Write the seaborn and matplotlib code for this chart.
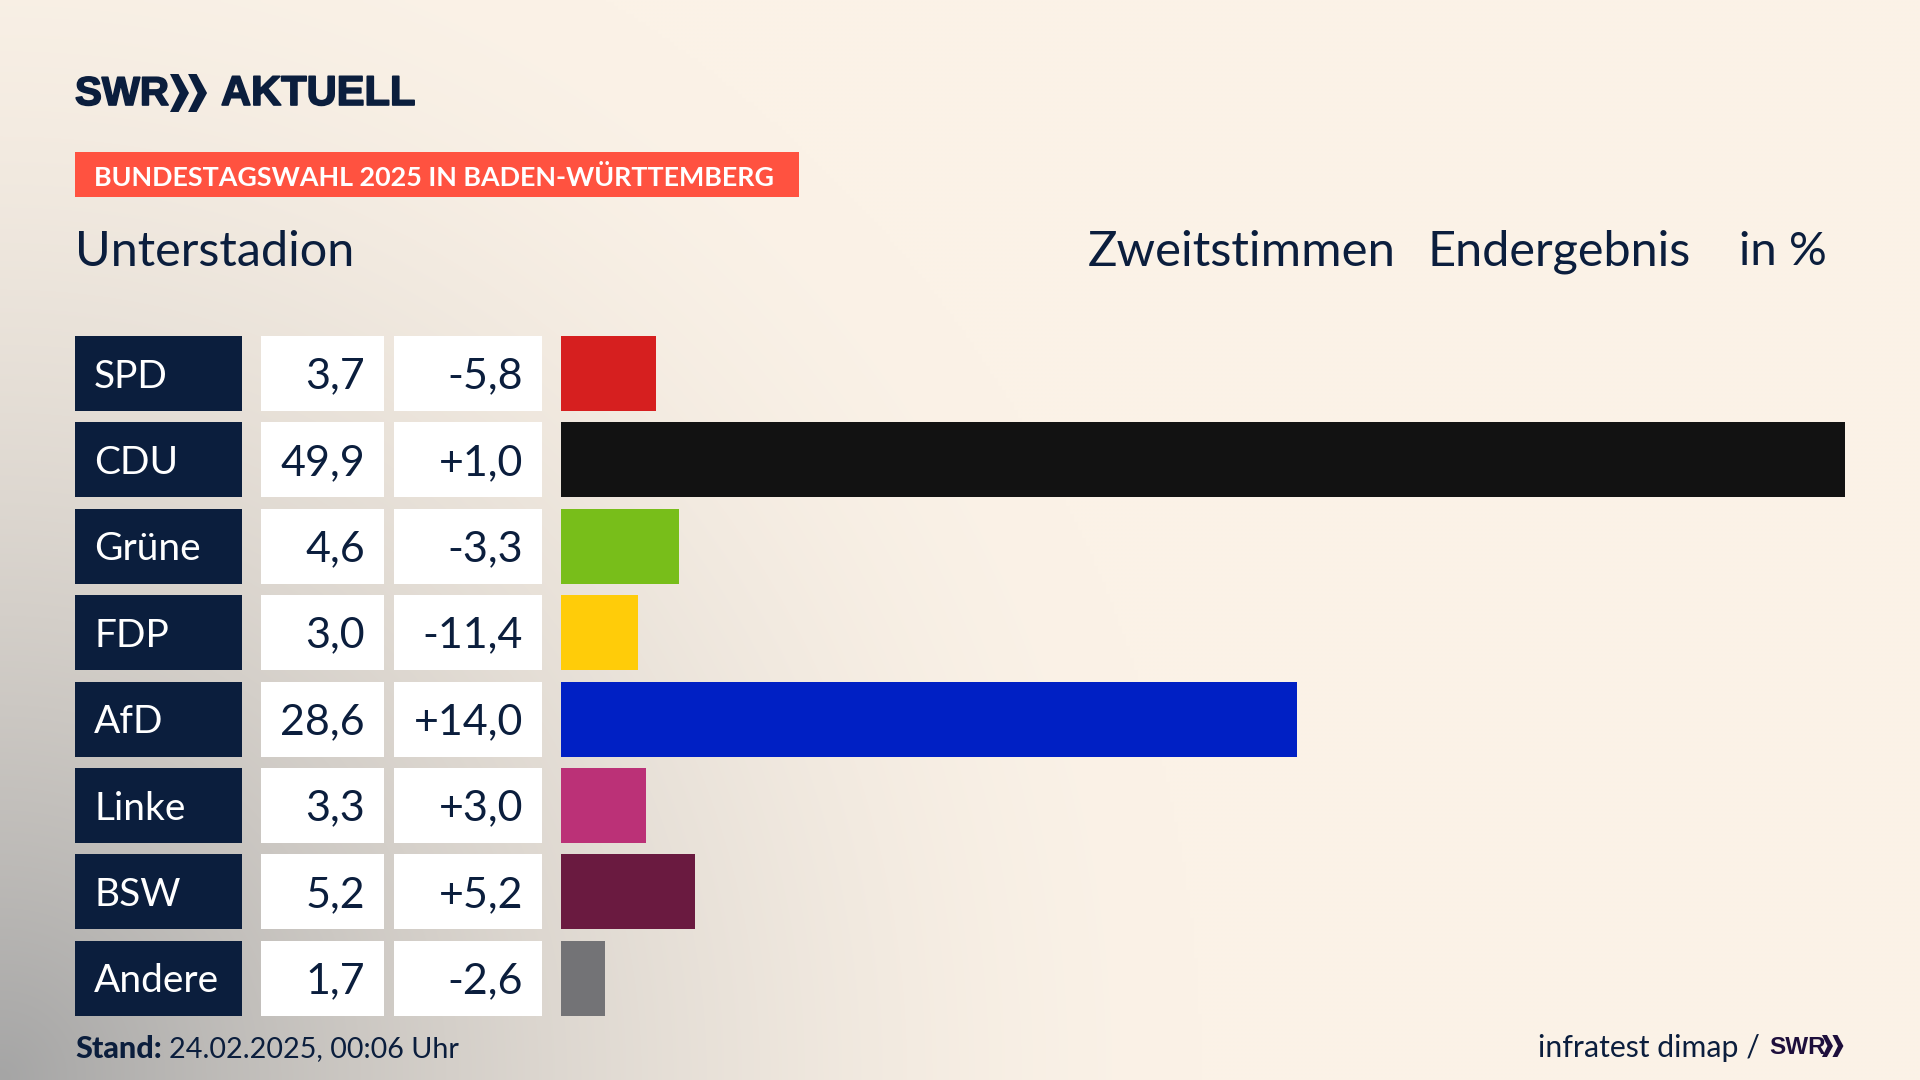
import numpy as np
import pandas as pd
import matplotlib
matplotlib.use('Agg')
import matplotlib.pyplot as plt
import matplotlib.patheffects as pe
from matplotlib.patches import Rectangle, Polygon
import seaborn as sns

parties = ['SPD', 'CDU', 'Grüne', 'FDP', 'AfD', 'Linke', 'BSW', 'Andere']
shares = [3.7, 49.9, 4.6, 3.0, 28.6, 3.3, 5.2, 1.7]
changes = [-5.8, 1.0, -3.3, -11.4, 14.0, 3.0, 5.2, -2.6]
colors = ['#D61F1F', '#121212', '#78BE1A', '#FFCC09', '#0020C4', '#BB3177', '#6A1A40', '#737376']

banner = 'BUNDESTAGSWAHL 2025 IN BADEN-WÜRTTEMBERG'
place = 'Unterstadion'
stand = '24.02.2025, 00:06 Uhr'

NAVY = '#0B1E3D'
CREAM = np.array([251, 242, 231]) / 255
GREY = np.array([165, 165, 165]) / 255
W, H = 1920, 1080
ROW_TOP, ROW_H, PITCH = 336, 75, 86.4
BAR_X0, BAR_X1 = 561, 1845
LOGO = ['Liberation Sans', 'DejaVu Sans']

sns.set_theme(style='white')
plt.rcParams['font.family'] = ['Lato', 'DejaVu Sans']

fig = plt.figure(figsize=(W / 100, H / 100), dpi=100)

# background plus everything that is placed in pixels
bg = fig.add_axes([0, 0, 1, 1])
yy, xx = np.mgrid[0:H:270j, 0:W:480j]
d = np.sqrt((xx / 1200) ** 2 + ((H - yy) / 1250) ** 2)
g = np.clip(1 - d, 0, 1) ** 1.7
grad = CREAM[None, None, :] * (1 - g[..., None]) + GREY[None, None, :] * g[..., None]
bg.imshow(grad, extent=[0, W, H, 0], aspect='auto', interpolation='bilinear')
bg.set_xlim(0, W)
bg.set_ylim(H, 0)
bg.axis('off')


def chevrons(x, y, h, color):
    w = h * 0.5
    for off in (0, w * 0.95):
        pts = [(x + off, y), (x + off + w * 0.45, y), (x + off + w, y + h / 2),
               (x + off + w * 0.45, y + h), (x + off, y + h), (x + off + w * 0.5, y + h / 2)]
        bg.add_patch(Polygon(pts, closed=True, color=color, lw=0))


# logo
heavy = [pe.withStroke(linewidth=1.2, foreground=NAVY)]
bg.text(75, 94, 'SWR', fontsize=29, weight='bold', family=LOGO, color=NAVY, va='center', ha='left', path_effects=heavy)
chevrons(170, 74, 38, NAVY)
bg.text(221, 94, 'AKTUELL', fontsize=30, weight='bold', family=LOGO, color=NAVY, va='center', ha='left', path_effects=heavy)

# header
bg.add_patch(Rectangle((75, 152), 724, 45, color='#FF5240', lw=0))
bg.text(94, 177, banner, fontsize=19.4, weight='bold', color='white', va='center', ha='left')
bg.text(75, 252, place, fontsize=35, color=NAVY, va='center', ha='left')
bg.text(1088, 252, 'Zweitstimmen', fontsize=35.4, color=NAVY, va='center', ha='left')
bg.text(1428, 252, 'Endergebnis', fontsize=35, color=NAVY, va='center', ha='left')
bg.text(1739, 252, 'in %', fontsize=34, color=NAVY, va='center', ha='left')

# table cells
for i, party in enumerate(parties):
    top = ROW_TOP + i * PITCH
    mid = top + ROW_H / 2 + 3
    bg.add_patch(Rectangle((75, top), 167, ROW_H, color=NAVY, lw=0))
    bg.add_patch(Rectangle((261, top), 123, ROW_H, color='white', lw=0))
    bg.add_patch(Rectangle((394, top), 148, ROW_H, color='white', lw=0))
    bg.text(94, mid, party, fontsize=28, color='white', va='center', ha='left')
    bg.text(365, mid, f'{shares[i]:.1f}'.replace('.', ','), fontsize=31, color=NAVY, va='center', ha='right')
    bg.text(523, mid, f'{changes[i]:+.1f}'.replace('.', ','), fontsize=31, color=NAVY, va='center', ha='right')

# bars through seaborn, axes spans bar start to the CDU bar end
df = pd.DataFrame({'party': parties, 'share': shares})
top_px = ROW_TOP + ROW_H / 2 - PITCH / 2
ax = fig.add_axes([BAR_X0 / W, 1 - (top_px + 8 * PITCH) / H, (BAR_X1 - BAR_X0) / W, 8 * PITCH / H])
ax.patch.set_alpha(0)
sns.barplot(data=df, y='party', x='share', hue='party', palette=colors, order=parties,
            width=ROW_H / PITCH, legend=False, saturation=1, linewidth=0, ax=ax)
ax.set_xlim(0, max(shares))
ax.set_ylim(7.5, -0.5)
ax.axis('off')

# footer
bg.text(75, 1049, 'Stand:', fontsize=22, weight='black', color=NAVY, va='center', ha='left')
bg.text(169, 1049, stand, fontsize=20.7, color=NAVY, va='center', ha='left')
bg.text(1538, 1048, 'infratest dimap /', fontsize=21.8, color=NAVY, va='center', ha='left')
bg.text(1769, 1047, 'SWR', fontsize=17.5, weight='bold', family=LOGO, color='#1E0F3C', va='center', ha='left')
chevrons(1822, 1035, 22, '#1E0F3C')

fig.savefig('out.png', dpi=100)
